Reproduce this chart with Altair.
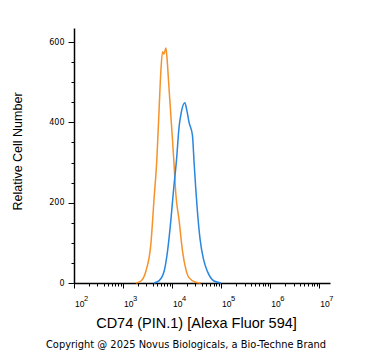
import altair as alt
import pandas as pd

# Control (isotype) histogram, orange
ctrl_x = [1840, 2320, 2930, 3700, 4270, 4900, 5460, 5920, 6400, 6810, 7460, 7710,
          8710, 10200, 11000, 11900, 13900, 16300, 19000, 21900, 30300, 38400]
ctrl_y = [0, 5, 30, 98, 206, 310, 438, 530, 576, 570, 585, 573,
          480, 356, 293, 223, 156, 80, 35, 14, 2, 0]

# CD74 stained histogram, blue
stain_x = [4260, 5460, 6900, 8090, 9440, 10700, 12300, 13900, 15400, 18150, 20000,
           22180, 26000, 28050, 30340, 32880, 37150, 43550, 52500, 60000, 71450, 100000]
stain_y = [0, 6, 30, 80, 156, 231, 306, 389, 425, 449, 430,
           400, 368, 302, 236, 178, 110, 60, 29, 15, 5, 0]

series = ["Control", "CD74"]
colors = ["#F5922A", "#2A86DE"]

x_title = "CD74 (PIN.1) [Alexa Fluor 594]"
y_title = "Relative Cell Number"
copyright_text = "Copyright @ 2025 Novus Biologicals, a Bio-Techne Brand"

x_decades = [100, 1000, 10000, 100000, 1000000, 10000000]
x_exponents = ["2", "3", "4", "5", "6", "7"]
x_ticks = [k * 10 ** n for n in range(2, 7) for k in range(1, 10)] + [10 ** 7]
y_ticks = list(range(0, 601, 50))

df = pd.DataFrame({
    "x": ctrl_x + stain_x,
    "y": ctrl_y + stain_y,
    "s": [series[0]] * len(ctrl_x) + [series[1]] * len(stain_x),
})
dec_df = pd.DataFrame({"x": x_decades, "e": x_exponents, "b": ["10"] * len(x_decades)})

FONT = "Liberation Sans"
xscale = alt.Scale(type="log", domain=[100, 16600000], nice=False)

lines = alt.Chart(df).mark_line(strokeWidth=1.5, interpolate="monotone").encode(
    x=alt.X(
        "x:Q",
        scale=xscale,
        axis=alt.Axis(
            values=x_ticks,
            labels=False,
            tickSize={"condition": {"test": "indexof([100,1000,10000,100000,1000000,10000000], datum.value) >= 0", "value": 5}, "value": 3},
            tickWidth=1,
            tickColor="black",
            domainColor="black",
            domainWidth=1.5,
            grid=False,
            title=x_title,
            titleFont=FONT,
            titleFontSize=14.5,
            titleFontWeight="normal",
            titleColor="black",
            titleX=122,
            titleY=44,
            titleAlign="center",
            titleBaseline="alphabetic",
        ),
    ),
    y=alt.Y(
        "y:Q",
        scale=alt.Scale(domain=[0, 635], nice=False),
        axis=alt.Axis(
            values=y_ticks,
            labelExpr="datum.value % 200 === 0 ? datum.label : ''",
            tickSize={"condition": {"test": "datum.value % 200 === 0", "value": 6}, "value": 3},
            tickWidth=1,
            tickColor="black",
            domainColor="black",
            domainWidth=1.5,
            labelFont="DejaVu Sans",
            labelFontSize=8,
            labelColor="black",
            labelPadding=4,
            labelOverlap=False,
            grid=False,
            title=y_title,
            titleFont=FONT,
            titleFontSize=12.5,
            titleFontWeight="normal",
            titleColor="black",
            titleX=-53,
            titleY=123,
            titleAlign="center",
            titleBaseline="alphabetic",
        ),
    ),
    color=alt.Color("s:N", scale=alt.Scale(domain=series, range=colors), legend=None),
)

base_lbl = alt.Chart(dec_df).mark_text(
    font=FONT, fontSize=8.5, color="black", align="left", baseline="alphabetic", dx=1
).encode(x=alt.X("x:Q", scale=xscale), y=alt.value(279), text="b:N")

exp_lbl = alt.Chart(dec_df).mark_text(
    font=FONT, fontSize=7.5, color="black", align="left", baseline="alphabetic", dx=10
).encode(x=alt.X("x:Q", scale=xscale), y=alt.value(273), text="e:N")

copy = alt.Chart(pd.DataFrame({"t": [copyright_text]})).mark_text(
    font="DejaVu Sans", fontSize=9.9, color="black", align="center", baseline="alphabetic"
).encode(text="t:N", x=alt.value(112), y=alt.value(320))

chart = alt.layer(lines, base_lbl, exp_lbl, copy).properties(
    width=256,
    height=255,
    autosize=alt.AutoSizeParams(type="none"),
    padding={"left": 74, "top": 28, "right": 41, "bottom": 68},
    background="white",
).configure_view(stroke=None)

chart.save("out.html", embed_options={"renderer": "svg", "actions": False})
